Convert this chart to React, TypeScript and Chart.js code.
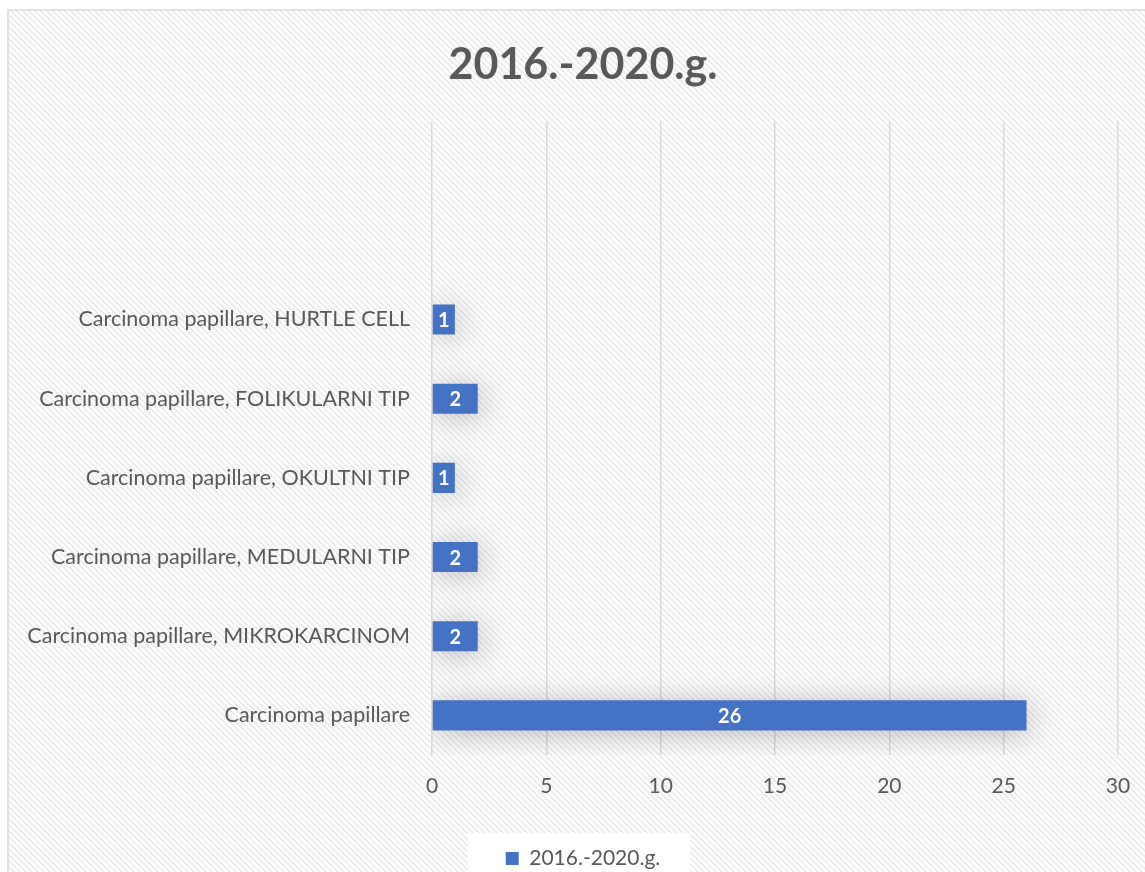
import React, { useEffect, useRef } from "react";
import { Chart, registerables } from "chart.js";

Chart.register(...registerables);

const TITLE = "2016.-2020.g.";
const SERIES_NAME = "2016.-2020.g.";
const CATEGORIES = [
  "",
  "",
  "Carcinoma papillare, HURTLE CELL",
  "Carcinoma papillare, FOLIKULARNI TIP",
  "Carcinoma papillare, OKULTNI TIP",
  "Carcinoma papillare, MEDULARNI TIP",
  "Carcinoma papillare, MIKROKARCINOM",
  "Carcinoma papillare",
];
const VALUES: (number | null)[] = [null, null, 1, 2, 1, 2, 2, 26];
const X_MIN = 0;
const X_MAX = 30;
const X_STEP = 5;

const FONT = "Lato, 'Open Sans', sans-serif";
const TEXT = "#595959";
const BAR = "#4472C4";

function makePattern(): CanvasPattern | string {
  const c = document.createElement("canvas");
  c.width = 6;
  c.height = 6;
  const g = c.getContext("2d");
  if (!g) return "#fafafa";
  g.fillStyle = "#ffffff";
  g.fillRect(0, 0, 6, 6);
  g.strokeStyle = "#ececec";
  g.lineWidth = 2;
  g.beginPath();
  g.moveTo(-3, -3);
  g.lineTo(9, 9);
  g.moveTo(-3, 3);
  g.lineTo(3, 9);
  g.moveTo(3, -3);
  g.lineTo(9, 3);
  g.stroke();
  const p = g.createPattern(c, "repeat");
  return p || "#fafafa";
}

export default function App() {
  const ref = useRef<HTMLCanvasElement | null>(null);

  useEffect(() => {
    if (!ref.current) return;
    const pattern = makePattern();

    const bgPlugin = {
      id: "bg",
      beforeDraw(chart: any) {
        const ctx = chart.ctx;
        ctx.save();
        ctx.fillStyle = "#ffffff";
        ctx.fillRect(0, 0, chart.width, chart.height);
        ctx.fillStyle = pattern;
        ctx.fillRect(8, 10, chart.width, chart.height);
        ctx.strokeStyle = "#d9d9d9";
        ctx.lineWidth = 1.5;
        ctx.strokeRect(8, 10, chart.width + 10, chart.height + 10);
        const lg = chart.legend;
        if (lg && lg.legendHitBoxes && lg.legendHitBoxes.length) {
          const hb = lg.legendHitBoxes[0];
          ctx.fillStyle = "#ffffff";
          ctx.fillRect(hb.left - 38, 833, hb.width + 68, chart.height);
        }
        ctx.restore();
      },
    };

    const shadowPlugin = {
      id: "barShadow",
      beforeDatasetDraw(chart: any) {
        const ctx = chart.ctx;
        ctx.save();
        ctx.shadowColor = "rgba(0,0,0,0.25)";
        ctx.shadowBlur = 30;
        ctx.shadowOffsetX = 3;
        ctx.shadowOffsetY = 3;
      },
      afterDatasetDraw(chart: any) {
        chart.ctx.restore();
      },
    };

    const labelPlugin = {
      id: "valueLabels",
      afterDatasetsDraw(chart: any) {
        const ctx = chart.ctx;
        const meta = chart.getDatasetMeta(0);
        ctx.save();
        ctx.fillStyle = "#ffffff";
        ctx.font = `bold 20px ${FONT}`;
        ctx.textAlign = "center";
        ctx.textBaseline = "middle";
        meta.data.forEach((el: any, i: number) => {
          const v = VALUES[i];
          if (v == null) return;
          const cx = (el.x + el.base) / 2;
          ctx.fillText(String(v), cx, el.y + 1);
        });
        ctx.restore();
      },
    };

    const chart = new Chart(ref.current, {
      type: "bar",
      data: {
        labels: CATEGORIES,
        datasets: [
          {
            label: SERIES_NAME,
            data: VALUES as any,
            backgroundColor: BAR,
            borderWidth: 0,
            barPercentage: 0.38,
            categoryPercentage: 1,
          },
        ],
      },
      options: {
        indexAxis: "y",
        animation: false,
        responsive: false,
        devicePixelRatio: 1,
        layout: { padding: { left: 0, right: -21, top: 10, bottom: -7 } },
        plugins: {
          title: {
            display: true,
            text: TITLE,
            color: TEXT,
            font: { family: FONT, size: 43, weight: "bold", lineHeight: 1.2 },
            padding: { top: 29, bottom: 31 },
          },
          legend: {
            display: true,
            position: "bottom",
            labels: {
              color: TEXT,
              font: { family: FONT, size: 21, lineHeight: 1 },
              boxWidth: 13,
              boxHeight: 13,
              padding: 3,
            },
          },
          tooltip: { enabled: false },
        },
        scales: {
          x: {
            min: X_MIN,
            max: X_MAX,
            ticks: {
              stepSize: X_STEP,
              color: TEXT,
              font: { family: FONT, size: 21 },
              padding: 0,
            },
            grid: {
              color: "#d9d9d9",
              lineWidth: 1.5,
              drawTicks: true,
              tickLength: 19,
              tickColor: "rgba(0,0,0,0)",
            },
            border: { display: false },
            afterFit(scale: any) {
              scale.height = 90;
            },
          },
          y: {
            ticks: {
              color: TEXT,
              font: { family: FONT, size: 21.5 },
              padding: 22,
            },
            grid: { display: false, drawTicks: false },
            border: { display: false },
            afterFit(scale: any) {
              scale.width = 432;
            },
          },
          yRight: {
            type: "category",
            position: "right",
            ticks: { display: false },
            grid: { display: false, drawTicks: false },
            border: { display: false },
            afterFit(scale: any) {
              scale.width = 48;
            },
          },
        },
      },
      plugins: [bgPlugin, shadowPlugin, labelPlugin],
    });

    return () => chart.destroy();
  }, []);

  return (
    <div style={{ position: "absolute", left: 0, top: 0, width: 1145, height: 872 }}>
      <canvas ref={ref} width={1145} height={872} />
    </div>
  );
}
